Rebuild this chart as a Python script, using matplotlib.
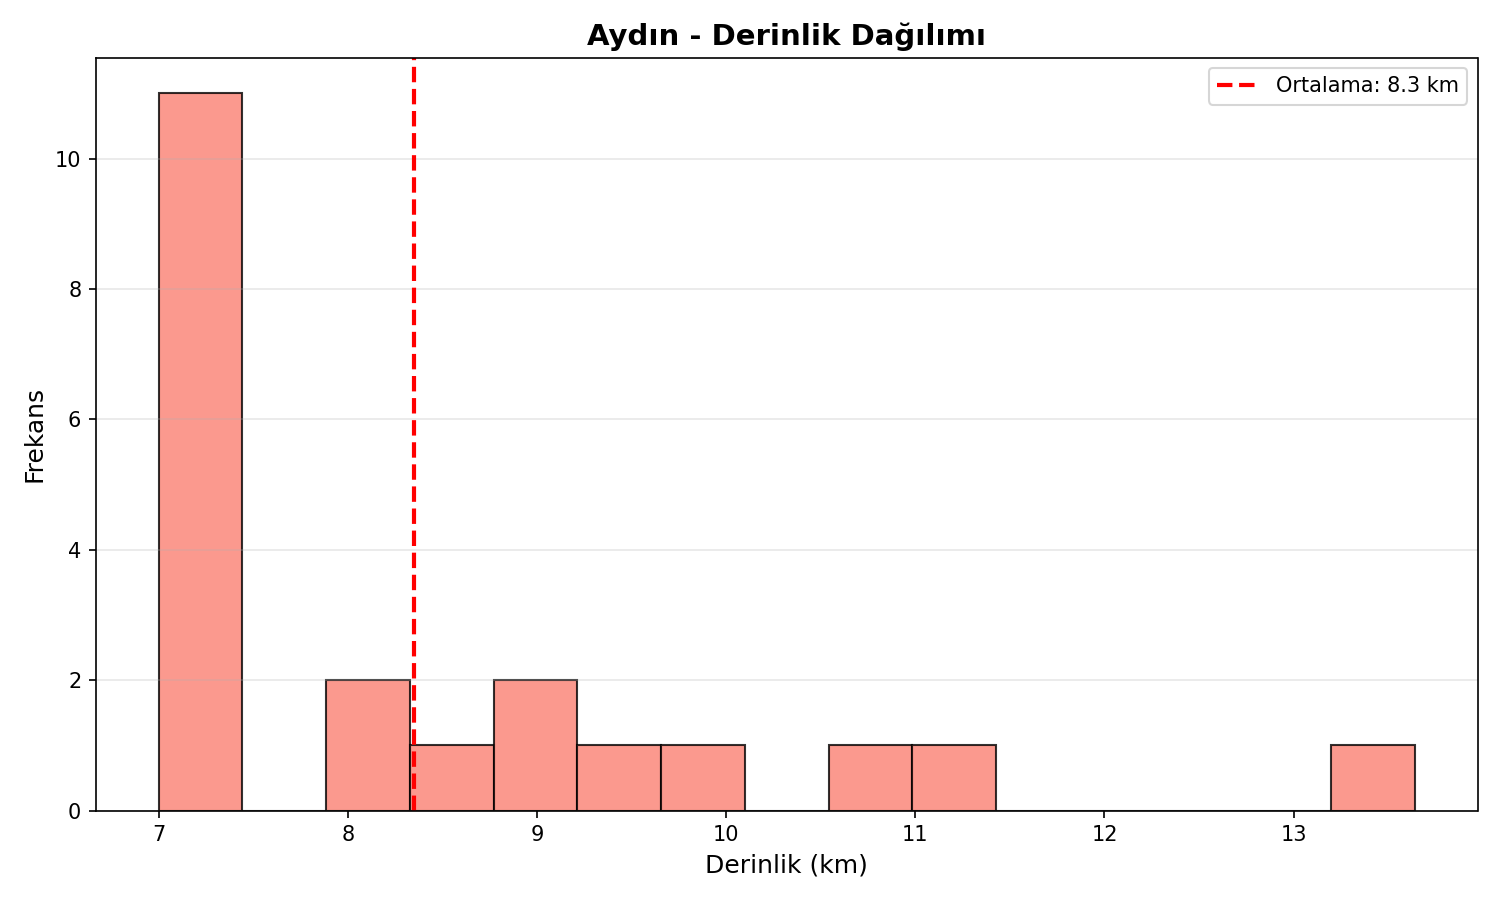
import numpy as np
import matplotlib
matplotlib.use("Agg")
import matplotlib.pyplot as plt

depth_min = 7.0
depth_max = 13.64
n_bins = 15
counts = [11, 0, 2, 1, 2, 1, 1, 0, 1, 1, 0, 0, 0, 0, 1]
mean_depth = 8.35

edges = np.linspace(depth_min, depth_max, n_bins + 1)
centers = (edges[:-1] + edges[1:]) / 2

fig, ax = plt.subplots(figsize=(10, 6), dpi=150)
ax.hist(centers, bins=edges, weights=counts, color='salmon', alpha=0.8, edgecolor='black')
ax.axvline(mean_depth, color='red', linestyle='--', linewidth=2, label=f'Ortalama: {mean_depth:.1f} km')
ax.set_title('Aydın - Derinlik Dağılımı', fontsize=14, fontweight='bold')
ax.set_xlabel('Derinlik (km)', fontsize=12)
ax.set_ylabel('Frekans', fontsize=12)
ax.legend()
ax.grid(axis='y', alpha=0.3)
fig.tight_layout()
fig.savefig('out.png')
